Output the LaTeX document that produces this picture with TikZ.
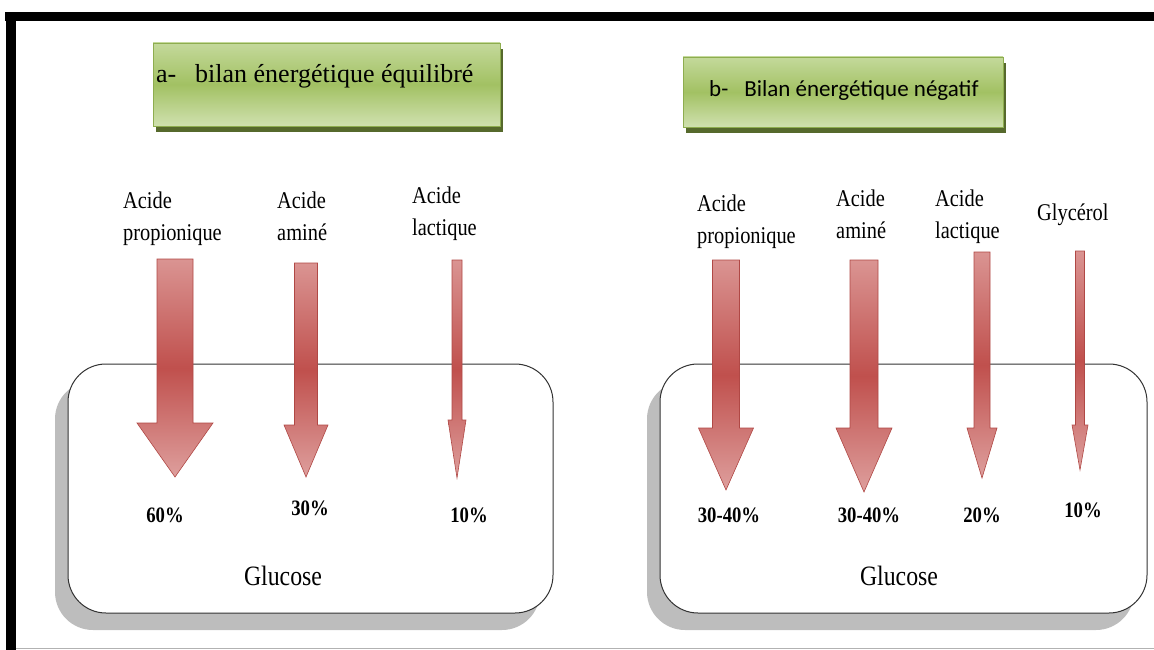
\documentclass[tikz,border=0pt]{standalone}
\usepackage{fontspec}
\setmainfont{Liberation Serif}[FakeStretch=0.85]
\newfontfamily\titreserif{Liberation Serif}[FakeStretch=1.0]
\newfontfamily\calibri{Carlito}
\usetikzlibrary{shadows}

\definecolor{vertclair}{HTML}{C4D99B}
\definecolor{vertmilieu}{HTML}{A2C163}
\definecolor{vertbord}{HTML}{8EAD4F}
\definecolor{vertombre}{HTML}{56692C}
\definecolor{rougeclair}{HTML}{DA9492}
\definecolor{rougefonce}{HTML}{C0504D}
\definecolor{rougebord}{HTML}{B04845}
\definecolor{ombregris}{HTML}{BDBDBD}

\tikzset{
  titre/.style={rectangle, draw=vertbord, line width=0.8pt, top color=vertclair, bottom color=vertclair!80!white, middle color=vertmilieu, drop shadow={shadow xshift=3pt, shadow yshift=-6pt, fill=vertombre, opacity=1}, inner sep=0pt},
  glucbox/.style={rectangle, rounded corners=38pt, draw=black!80, line width=1pt, fill=white, drop shadow={shadow xshift=-13pt, shadow yshift=-17pt, fill=ombregris, opacity=1}, inner sep=0pt},
  fleche/.style={draw=rougebord, line width=0.6pt, top color=rougeclair, bottom color=rougeclair!90!white, middle color=rougefonce},
  substrat/.style={anchor=north west, align=left, inner sep=0pt, font=\fontsize{24}{32}\selectfont},
  pourcent/.style={anchor=base, inner sep=0pt, font=\fontsize{22}{26}\selectfont\bfseries},
  glucose/.style={anchor=base, inner sep=0pt, font=\fontsize{28}{32}\selectfont}
}

\begin{document}
\begin{tikzpicture}[x=1pt, y=-1pt]
\useasboundingbox (0,0) rectangle (1154,650);

% frame
\fill (5,12) rectangle (1154,21);
\fill (6,12) rectangle (16,650);
\draw[black!30, line width=1pt] (16,648.5) -- (1154,648.5);

% glucose boxes
\node[glucbox, minimum width=485pt, minimum height=249pt] (boiteA) at (310.5,488.5) {};
\node[glucbox, minimum width=487pt, minimum height=249pt] (boiteB) at (903.5,488.5) {};

% titles
\node[titre, minimum width=347pt, minimum height=83pt] (titreA) at (326.5,84.5) {};
\node[anchor=base west, inner sep=0pt, font=\titreserif\fontsize{26}{30}\selectfont] (texteA) at (156,83) {a-\hspace{18.8pt}bilan énergétique équilibré};
\node[titre, minimum width=320pt, minimum height=70pt] (titreB) at (843,92) {};
\node[anchor=base west, inner sep=0pt, font=\calibri\fontsize{23}{28}\selectfont] (texteB) at (709,97) {b-\hspace{16pt}Bilan énergétique négatif};

% arrows
\foreach \cx/\demi/\tete/\haut/\base/\pointe in {175/18/38/259/423/477, 306/11.5/22/263/425/477, 457/5/9/260/420/478, 726/13.5/27.5/260/428/490, 864/14/28/260/428/492, 982/8/15/252/428/478, 1080/4.5/8/251/425/470}
  \path[fleche] (\cx-\demi,\haut) -- (\cx+\demi,\haut) -- (\cx+\demi,\base) -- (\cx+\tete,\base) -- (\cx,\pointe) -- (\cx-\tete,\base) -- (\cx-\demi,\base) -- cycle;

% substrates
\node[substrat] (subA1) at (123,191.5) {Acide\\propionique};
\node[substrat] (subA2) at (277,191.5) {Acide\\aminé};
\node[substrat] (subA3) at (412,187) {Acide\\lactique};
\node[substrat] (subB1) at (697,195) {Acide\\propionique};
\node[substrat] (subB2) at (836,190) {Acide\\aminé};
\node[substrat] (subB3) at (935,190) {Acide\\lactique};
\node[substrat] (subB4) at (1037,204) {Glycérol};

% percentages
\node[pourcent] (pA1) at (165,522) {60\%};
\node[pourcent] (pA2) at (310,515) {30\%};
\node[pourcent] (pA3) at (469,522) {10\%};
\node[pourcent] (pB1) at (729,522) {30-40\%};
\node[pourcent] (pB2) at (869,522) {30-40\%};
\node[pourcent] (pB3) at (982,522) {20\%};
\node[pourcent] (pB4) at (1083,517) {10\%};

\node[glucose] (glucA) at (283,585) {Glucose};
\node[glucose] (glucB) at (899,585) {Glucose};
\end{tikzpicture}
\end{document}
